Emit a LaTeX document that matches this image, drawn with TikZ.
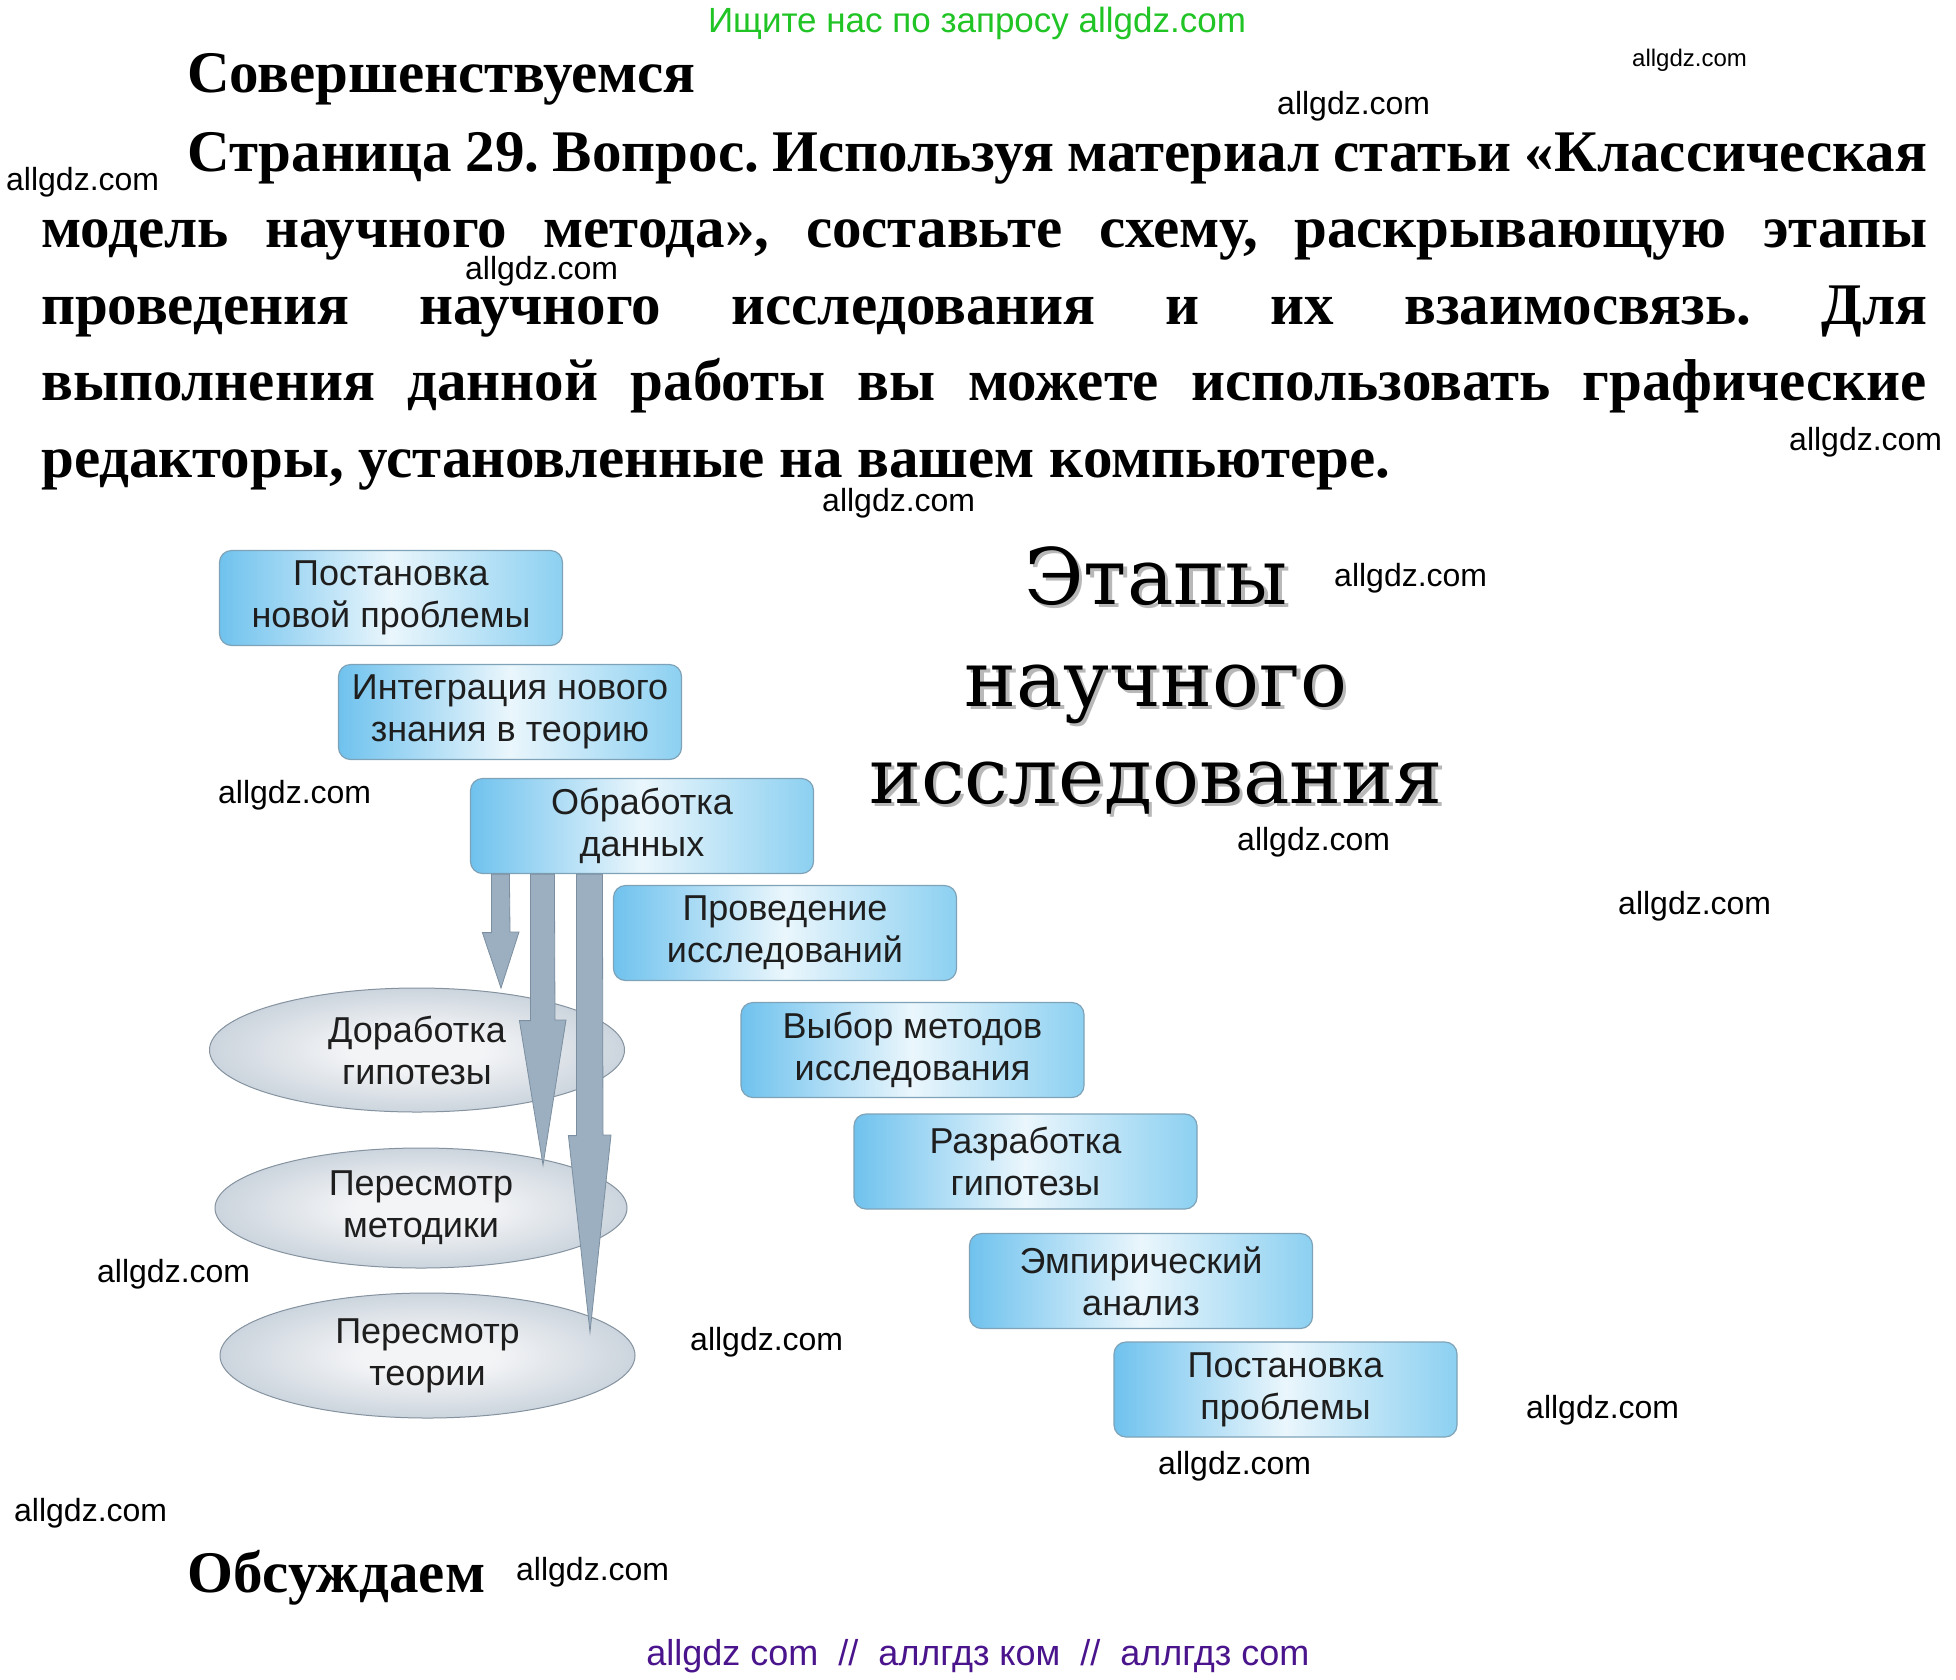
\documentclass[tikz,border=0pt]{standalone}
\usepackage{fontspec}
\setmainfont{Liberation Serif}
\newfontfamily\sansf{Liberation Sans}
\newfontfamily\titlef{DejaVu Serif}
\usetikzlibrary{shapes.geometric,calc}
\definecolor{boxL}{HTML}{6FC2EE}
\definecolor{boxM}{HTML}{EAF6FC}
\definecolor{boxR}{HTML}{8CD0F1}
\definecolor{boxline}{HTML}{7EA3B8}
\definecolor{ellIn}{HTML}{F3F4F6}
\definecolor{ellOut}{HTML}{97AABC}
\definecolor{ellline}{HTML}{84939F}
\definecolor{arrfill}{HTML}{9CAFC0}
\definecolor{arredge}{HTML}{7B8FA0}
\definecolor{txt}{HTML}{1E1E1E}
\definecolor{wmgreen}{HTML}{20C425}
\definecolor{wmpurple}{HTML}{4A148C}
\pgfdeclareradialshading{ellshade}{\pgfpoint{0bp}{0bp}}{color(0bp)=(ellIn); color(8bp)=(ellIn); color(27bp)=(ellIn!52!ellOut); color(50bp)=(ellOut)}
\frenchspacing
\begin{document}
\begin{tikzpicture}[x=1pt,y=-1pt,
  stagebox/.style={draw=boxline, line width=1.2pt, rounded corners=12pt,
    minimum width=343pt, minimum height=95pt, inner sep=0pt, align=center,
    text=txt, font=\sansf\fontsize{36}{42}\selectfont,
    left color=boxL, right color=boxR, middle color=boxM},
  loopell/.style={ellipse, draw=ellline, line width=1pt, inner sep=0pt,
    align=center, text=txt, font=\sansf\fontsize{36}{42}\selectfont,
    shading=ellshade},
  blockarrow/.style={fill=arrfill, draw=arredge, line width=0.8pt, line join=miter},
  wm/.style={font=\sansf\fontsize{32}{32}\selectfont, inner sep=0pt, anchor=west, text=black},
  headtxt/.style={font=\bfseries\fontsize{59}{59}\selectfont, inner sep=0pt, anchor=base west, text=black},
  titletxt/.style={font=\titlef\fontsize{78}{78}\selectfont, inner sep=0pt, anchor=base, text=black},
  titleshadow/.style={font=\titlef\fontsize{78}{78}\selectfont, inner sep=0pt, anchor=base, text=black, opacity=0.28}
]
\useasboundingbox[fill=white] (0,0) rectangle (1956,1679);

% top banner
\node[font=\sansf\fontsize{35}{35}\selectfont, text=wmgreen, anchor=base, inner sep=0pt] (banner) at (977,32) {Ищите нас по запросу allgdz.com};

% heading and task text
\node[headtxt] (h1) at (187,92) {Совершенствуемся};
\node[headtxt] (p1) at (187,171) {\makebox[1740pt][s]{Страница 29. Вопрос. Используя материал статьи «Классическая}};
\node[headtxt] (p2) at (41,247.5) {\makebox[1886pt][s]{модель научного метода», составьте схему, раскрывающую этапы}};
\node[headtxt] (p3) at (41,324) {\makebox[1886pt][s]{проведения научного исследования и их взаимосвязь. Для}};
\node[headtxt] (p4) at (41,400.5) {\makebox[1886pt][s]{выполнения данной работы вы можете использовать графические}};
\node[headtxt] (p5) at (41,477) {редакторы, установленные на вашем компьютере.};
\node[headtxt] (h2) at (187,1592) {Обсуждаем};

% title with shadow
\node[titleshadow] (ts1) at (1159.5,607.5) {Этапы};
\node[titleshadow] (ts2) at (1159.5,709.5) {научного};
\node[titleshadow] (ts3) at (1159.5,806.5) {исследования};
\node[titletxt] (t1) at (1156,604) {Этапы};
\node[titletxt] (t2) at (1156,706) {научного};
\node[titletxt] (t3) at (1156,803) {исследования};

% stage boxes
\node[stagebox] (B1) at (391,598) {Постановка\\новой проблемы};
\node[stagebox] (B2) at (510,712) {Интеграция нового\\знания в теорию};
\node[stagebox] (B3) at (642,826) {Обработка\\данных};
\node[stagebox] (B4) at (785,933) {Проведение\\исследований};
\node[stagebox] (B5) at (912.5,1050) {Выбор методов\\исследования};
\node[stagebox] (B6) at (1025.5,1161.5) {Разработка\\гипотезы};
\node[stagebox] (B7) at (1141,1281) {Эмпирический\\анализ};
\node[stagebox] (B8) at (1285.5,1389.5) {Постановка\\проблемы};

% feedback ellipses
\node[loopell, minimum width=415pt, minimum height=124pt] (E1) at (417,1050) {Доработка\\гипотезы};
\node[loopell, minimum width=412pt, minimum height=120pt] (E2) at (421,1208) {Пересмотр\\методики};
\node[loopell, minimum width=415pt, minimum height=125pt] (E3) at (427.5,1355.5) {Пересмотр\\теории};

% arrow tips
\coordinate (tip1) at (501,988);
\coordinate (tip2) at (543,1165);
\coordinate (tip3) at (590,1332);

% block arrows from B3
\draw[blockarrow] ([xshift=21.5pt]B3.south west) -- ++(0,58.5) -- ++(-9,0) -- (tip1)
  -- ++(18,-56) -- ++(-9,0) -- ([xshift=39.5pt]B3.south west) -- cycle;
\draw[blockarrow] ([xshift=60.5pt]B3.south west) -- ++(0,146.5) -- ++(-11,0) -- (tip2)
  -- ++(23,-145) -- ++(-11,0) -- ([xshift=84.5pt]B3.south west) -- cycle;
\draw[blockarrow] ([xshift=106.5pt]B3.south west) -- ++(0,261.5) -- ++(-8,0) -- (tip3)
  -- ++(21,-197) -- ++(-8,0) -- ([xshift=132.5pt]B3.south west) -- cycle;

% watermarks
\node[wm, font=\sansf\fontsize{24}{24}\selectfont] (w1) at (1632,60) {allgdz.com};
\node[wm] (w2) at (1277,106) {allgdz.com};
\node[wm] (w3) at (6,182) {allgdz.com};
\node[wm] (w4) at (465,271) {allgdz.com};
\node[wm] (w5) at (1789,442) {allgdz.com};
\node[wm] (w6) at (822,503) {allgdz.com};
\node[wm] (w7) at (1334,578) {allgdz.com};
\node[wm] (w8) at (218,795) {allgdz.com};
\node[wm] (w9) at (1237,842) {allgdz.com};
\node[wm] (w10) at (1618,906) {allgdz.com};
\node[wm] (w11) at (97,1274) {allgdz.com};
\node[wm] (w12) at (690,1342) {allgdz.com};
\node[wm] (w13) at (1526,1410) {allgdz.com};
\node[wm] (w14) at (1158,1466) {allgdz.com};
\node[wm] (w15) at (14,1513) {allgdz.com};
\node[wm] (w16) at (516,1572) {allgdz.com};

% bottom purple line
\node[font=\sansf\fontsize{36}{36}\selectfont, text=wmpurple, anchor=base, inner sep=0pt] (footer) at (978,1665) {allgdz com\ \ //\ \ аллгдз ком\ \ //\ \ аллгдз com};
\end{tikzpicture}
\end{document}
